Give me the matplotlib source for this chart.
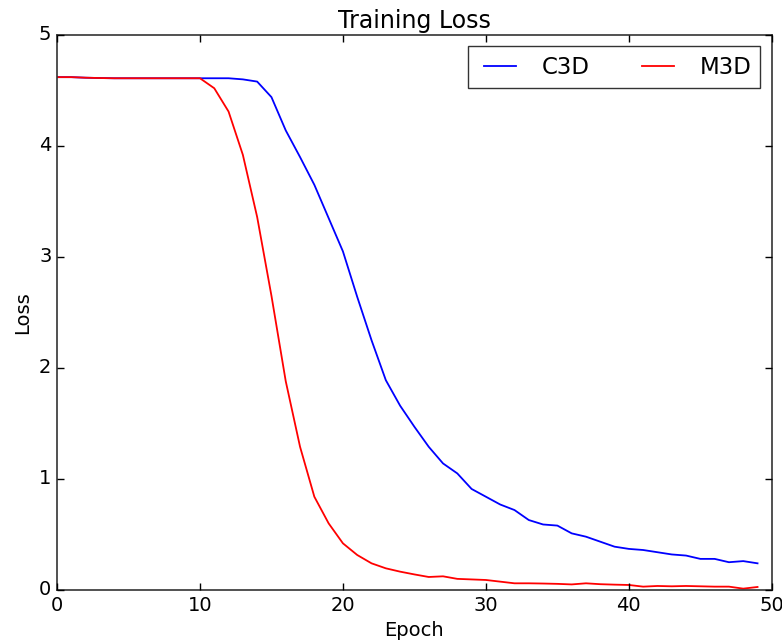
import matplotlib
matplotlib.use("Agg")
from matplotlib import pyplot as plt
import numpy as np

epochs = list(range(50))

c3d_loss = [4.62, 4.62, 4.615, 4.612, 4.61, 4.61, 4.61, 4.61, 4.61, 4.61,
            4.61, 4.61, 4.61, 4.60, 4.58, 4.44, 4.14, 3.90, 3.65, 3.35,
            3.05, 2.64, 2.25, 1.89, 1.66, 1.47, 1.29, 1.14, 1.05, 0.91,
            0.84, 0.77, 0.72, 0.63, 0.59, 0.58, 0.51, 0.48, 0.435, 0.39,
            0.37, 0.36, 0.34, 0.32, 0.31, 0.28, 0.28, 0.25, 0.26, 0.24]

m3d_loss = [4.62, 4.62, 4.615, 4.612, 4.61, 4.61, 4.61, 4.61, 4.61, 4.61,
            4.61, 4.52, 4.31, 3.92, 3.36, 2.65, 1.88, 1.29, 0.84, 0.60,
            0.42, 0.315, 0.24, 0.195, 0.165, 0.14, 0.117, 0.123, 0.10, 0.095,
            0.09, 0.075, 0.06, 0.06, 0.058, 0.055, 0.05, 0.06, 0.052, 0.048,
            0.045, 0.03, 0.036, 0.033, 0.036, 0.033, 0.03, 0.03, 0.012, 0.027]

plt.style.use('classic')
plt.rcParams['axes.linewidth'] = 1.2
plt.rcParams['axes.edgecolor'] = '#333333'
fig = plt.figure(figsize=(7.82, 6.44), dpi=100, facecolor='white')
ax = fig.add_axes([0.0729, 0.0839, 0.9141, 0.8618])

ax.plot(epochs, c3d_loss, color='b', linewidth=1.3, label='C3D')
ax.plot(epochs, m3d_loss, color='r', linewidth=1.3, label='M3D')

ax.set_xlim(0, 50)
ax.set_ylim(0, 5)
ax.set_title('Training Loss', fontsize=17)
ax.set_xlabel('Epoch', fontsize=14)
ax.set_ylabel('Loss', fontsize=14)
ax.tick_params(labelsize=14, length=5, width=1)
ax.legend(loc='upper right', ncol=2, fontsize=16.5, frameon=True)

fig.savefig('out.png', dpi=100, facecolor='white')
